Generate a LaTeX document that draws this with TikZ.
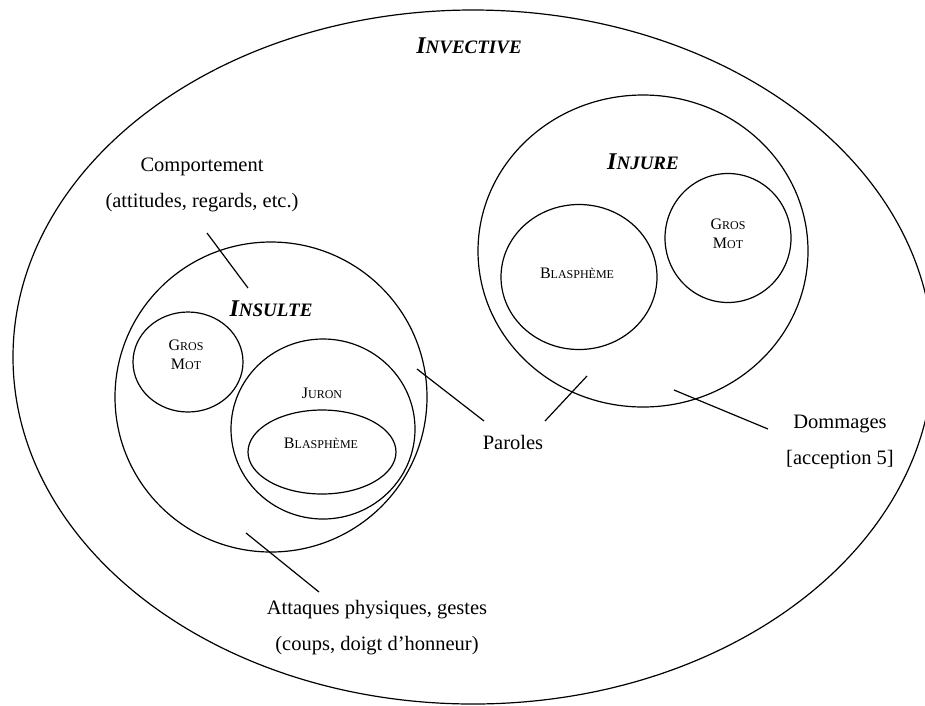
\documentclass[tikz,border=0pt]{standalone}
\usepackage{fontspec}
\setmainfont{Liberation Serif}
\usetikzlibrary{shapes.geometric}
\newcommand\bigsc[2]{{\fontsize{24}{28}\selectfont #1}{\fontsize{19}{22}\selectfont #2}}
\newcommand\smsc[2]{{\fontsize{16}{19}\selectfont #1}{\fontsize{12}{14}\selectfont #2}}
\tikzset{
  set/.style={draw, ellipse, line width=1.2pt, inner sep=0pt},
  title/.style={font=\bfseries\itshape, inner sep=1pt},
  sclabel/.style={font=\fontsize{16}{19}\selectfont, align=center, inner sep=1pt},
  txt/.style={font=\fontsize{20.5}{36}\selectfont, align=center, inner sep=1pt},
  link/.style={line width=1.2pt}
}
\begin{document}
\begin{tikzpicture}[x=1pt,y=-1pt]
\useasboundingbox (0,0) rectangle (925,705);
% sets
\node[set, minimum width=920pt, minimum height=694pt] (invective) at (473,357) {};
\node[set, minimum width=312pt, minimum height=310pt] (insulte) at (271,397) {};
\node[set, minimum width=110pt, minimum height=100pt] (gm1) at (188,362) {};
\node[set, minimum width=184pt, minimum height=180pt] (juron) at (323,429) {};
\node[set, minimum width=148pt, minimum height=84pt] (bl1) at (322,452) {};
\node[set, minimum width=330pt, minimum height=312pt] (injure) at (643,251) {};
\node[set, minimum width=156pt, minimum height=145pt] (bl2) at (579,277) {};
\node[set, minimum width=126pt, minimum height=129pt] (gm2) at (728,238) {};
% titles
\node[title] (tinv) at (469,46) {\bigsc{I}{NVECTIVE}};
\node[title] (tins) at (271,309) {\bigsc{I}{NSULTE}};
\node[title] (tinj) at (643,162) {\bigsc{I}{NJURE}};
% small caps labels
\node[sclabel] (lgm1) at (186,355) {\smsc{G}{ROS}\\\smsc{M}{OT}};
\node[sclabel] (ljur) at (322,393) {\smsc{J}{URON}};
\node[sclabel] (lbl1) at (321,443) {\smsc{B}{LASPHÈME}};
\node[sclabel] (lbl2) at (577,273) {\smsc{B}{LASPHÈME}};
\node[sclabel] (lgm2) at (728,234) {\smsc{G}{ROS}\\\smsc{M}{OT}};
% outside labels
\node[txt] (comp) at (202,185) {Comportement\\(attitudes, regards, etc.)};
\node[txt] (par) at (513,442) {Paroles};
\node[txt] (dom) at (840,442) {Dommages\\{[acception 5]}};
\node[txt] (att) at (377,628) {Attaques physiques, gestes\\(coups, doigt d’honneur)};
% connector ends
\coordinate (c1) at (207,233); \coordinate (c2) at (248,288);
\coordinate (p1) at (417,369); \coordinate (p2) at (484,421);
\coordinate (p3) at (587,376); \coordinate (p4) at (545,421);
\coordinate (d1) at (674,390); \coordinate (d2) at (768,429);
\coordinate (a1) at (246,533); \coordinate (a2) at (319,592);
\draw[link] (c1) -- (c2);
\draw[link] (p1) -- (p2);
\draw[link] (p3) -- (p4);
\draw[link] (d1) -- (d2);
\draw[link] (a1) -- (a2);
\end{tikzpicture}
\end{document}
